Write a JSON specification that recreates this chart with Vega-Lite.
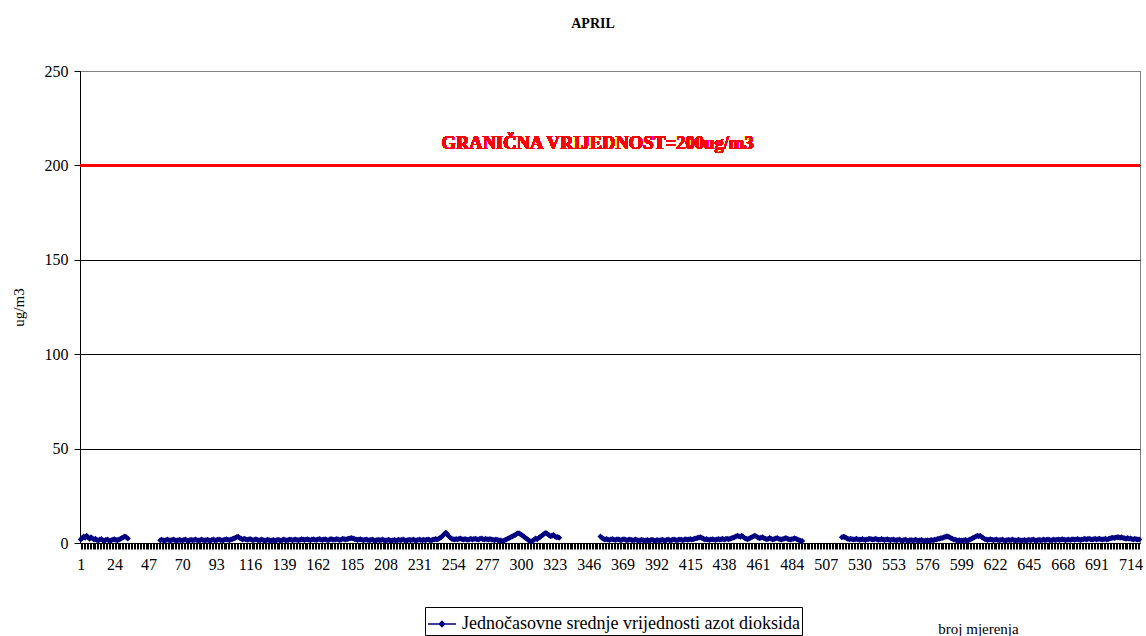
{
"$schema": "https://vega.github.io/schema/vega-lite/v6.json",
"width": 1060, "height": 472,
"autosize": {"type": "none"},
"padding": {"left": 80, "top": 71, "right": 6, "bottom": 93},
"background": "white",
"config": {"view": {"stroke": "#808080", "strokeWidth": 1}, "font": "Liberation Serif"},
"title": {"text": "APRIL", "font": "Liberation Serif", "fontSize": 14, "fontWeight": "bold", "color": "black", "anchor": "middle", "offset": 32, "dx": -17},
"data": {"values": [
{"n":1,"s":1,"v":1.8},{"n":2,"s":1,"v":2.6},{"n":3,"s":1,"v":3.4},{"n":4,"s":1,"v":2.8},{"n":5,"s":1,"v":3.8},{"n":6,"s":1,"v":2.9},{"n":7,"s":1,"v":2.2},{"n":8,"s":1,"v":3.0},{"n":9,"s":1,"v":2.4},{"n":10,"s":1,"v":1.8},
{"n":11,"s":1,"v":2.2},{"n":12,"s":1,"v":1.6},{"n":13,"s":1,"v":1.3},{"n":14,"s":1,"v":1.8},{"n":15,"s":1,"v":2.1},{"n":16,"s":1,"v":1.5},{"n":17,"s":1,"v":1.2},{"n":18,"s":1,"v":1.6},{"n":19,"s":1,"v":1.9},{"n":20,"s":1,"v":1.4},
{"n":21,"s":1,"v":1.2},{"n":22,"s":1,"v":1.5},{"n":23,"s":1,"v":1.8},{"n":24,"s":1,"v":2.0},{"n":25,"s":1,"v":1.6},{"n":26,"s":1,"v":1.4},{"n":27,"s":1,"v":1.8},{"n":28,"s":1,"v":2.2},{"n":29,"s":1,"v":2.6},{"n":30,"s":1,"v":3.0},
{"n":31,"s":1,"v":3.4},{"n":32,"s":1,"v":3.0},{"n":33,"s":1,"v":2.4},
{"n":55,"s":2,"v":1.4},{"n":56,"s":2,"v":1.7},{"n":57,"s":2,"v":1.5},{"n":58,"s":2,"v":1.2},{"n":59,"s":2,"v":1.6},{"n":60,"s":2,"v":1.8},{"n":61,"s":2,"v":1.5},{"n":62,"s":2,"v":1.3},{"n":63,"s":2,"v":1.6},{"n":64,"s":2,"v":1.9},
{"n":65,"s":2,"v":1.5},{"n":66,"s":2,"v":1.2},{"n":67,"s":2,"v":1.4},{"n":68,"s":2,"v":1.7},{"n":69,"s":2,"v":1.5},{"n":70,"s":2,"v":1.3},{"n":71,"s":2,"v":1.6},{"n":72,"s":2,"v":1.8},{"n":73,"s":2,"v":1.4},{"n":74,"s":2,"v":1.2},
{"n":75,"s":2,"v":1.5},{"n":76,"s":2,"v":1.7},{"n":77,"s":2,"v":1.4},{"n":78,"s":2,"v":1.6},{"n":79,"s":2,"v":1.9},{"n":80,"s":2,"v":1.5},{"n":81,"s":2,"v":1.3},{"n":82,"s":2,"v":1.5},{"n":83,"s":2,"v":1.8},{"n":84,"s":2,"v":1.6},
{"n":85,"s":2,"v":1.3},{"n":86,"s":2,"v":1.5},{"n":87,"s":2,"v":1.7},{"n":88,"s":2,"v":1.4},{"n":89,"s":2,"v":1.2},{"n":90,"s":2,"v":1.6},{"n":91,"s":2,"v":1.8},{"n":92,"s":2,"v":1.5},{"n":93,"s":2,"v":1.4},{"n":94,"s":2,"v":1.7},
{"n":95,"s":2,"v":1.9},{"n":96,"s":2,"v":1.6},{"n":97,"s":2,"v":1.4},{"n":98,"s":2,"v":1.5},{"n":99,"s":2,"v":1.8},{"n":100,"s":2,"v":2.0},{"n":101,"s":2,"v":1.7},{"n":102,"s":2,"v":1.5},{"n":103,"s":2,"v":1.8},{"n":104,"s":2,"v":2.1},
{"n":105,"s":2,"v":2.4},{"n":106,"s":2,"v":2.8},{"n":107,"s":2,"v":3.2},{"n":108,"s":2,"v":3.3},{"n":109,"s":2,"v":2.7},{"n":110,"s":2,"v":2.2},{"n":111,"s":2,"v":1.9},{"n":112,"s":2,"v":2.3},{"n":113,"s":2,"v":2.0},{"n":114,"s":2,"v":1.7},
{"n":115,"s":2,"v":1.9},{"n":116,"s":2,"v":2.1},{"n":117,"s":2,"v":1.8},{"n":118,"s":2,"v":1.5},{"n":119,"s":2,"v":1.7},{"n":120,"s":2,"v":2.0},{"n":121,"s":2,"v":1.6},{"n":122,"s":2,"v":1.4},{"n":123,"s":2,"v":1.6},{"n":124,"s":2,"v":1.8},
{"n":125,"s":2,"v":1.5},{"n":126,"s":2,"v":1.3},{"n":127,"s":2,"v":1.5},{"n":128,"s":2,"v":1.7},{"n":129,"s":2,"v":1.4},{"n":130,"s":2,"v":1.2},{"n":131,"s":2,"v":1.4},{"n":132,"s":2,"v":1.6},{"n":133,"s":2,"v":1.3},{"n":134,"s":2,"v":1.5},
{"n":135,"s":2,"v":1.7},{"n":136,"s":2,"v":1.5},{"n":137,"s":2,"v":1.3},{"n":138,"s":2,"v":1.6},{"n":139,"s":2,"v":1.8},{"n":140,"s":2,"v":1.5},{"n":141,"s":2,"v":1.4},{"n":142,"s":2,"v":1.6},{"n":143,"s":2,"v":1.9},{"n":144,"s":2,"v":1.7},
{"n":145,"s":2,"v":1.5},{"n":146,"s":2,"v":1.7},{"n":147,"s":2,"v":1.9},{"n":148,"s":2,"v":1.6},{"n":149,"s":2,"v":1.4},{"n":150,"s":2,"v":1.7},{"n":151,"s":2,"v":2.0},{"n":152,"s":2,"v":1.8},{"n":153,"s":2,"v":1.6},{"n":154,"s":2,"v":1.8},
{"n":155,"s":2,"v":2.0},{"n":156,"s":2,"v":1.7},{"n":157,"s":2,"v":1.5},{"n":158,"s":2,"v":1.8},{"n":159,"s":2,"v":2.0},{"n":160,"s":2,"v":1.7},{"n":161,"s":2,"v":1.6},{"n":162,"s":2,"v":1.9},{"n":163,"s":2,"v":2.1},{"n":164,"s":2,"v":1.8},
{"n":165,"s":2,"v":1.6},{"n":166,"s":2,"v":1.8},{"n":167,"s":2,"v":2.0},{"n":168,"s":2,"v":1.7},{"n":169,"s":2,"v":1.5},{"n":170,"s":2,"v":1.8},{"n":171,"s":2,"v":2.1},{"n":172,"s":2,"v":1.9},{"n":173,"s":2,"v":1.7},{"n":174,"s":2,"v":1.9},
{"n":175,"s":2,"v":2.1},{"n":176,"s":2,"v":1.8},{"n":177,"s":2,"v":1.6},{"n":178,"s":2,"v":1.9},{"n":179,"s":2,"v":2.2},{"n":180,"s":2,"v":2.0},{"n":181,"s":2,"v":1.8},{"n":182,"s":2,"v":2.1},{"n":183,"s":2,"v":2.3},{"n":184,"s":2,"v":2.5},
{"n":185,"s":2,"v":2.7},{"n":186,"s":2,"v":2.4},{"n":187,"s":2,"v":2.1},{"n":188,"s":2,"v":1.8},{"n":189,"s":2,"v":1.6},{"n":190,"s":2,"v":1.8},{"n":191,"s":2,"v":2.0},{"n":192,"s":2,"v":1.7},{"n":193,"s":2,"v":1.5},{"n":194,"s":2,"v":1.7},
{"n":195,"s":2,"v":1.9},{"n":196,"s":2,"v":1.6},{"n":197,"s":2,"v":1.4},{"n":198,"s":2,"v":1.6},{"n":199,"s":2,"v":1.8},{"n":200,"s":2,"v":1.5},{"n":201,"s":2,"v":1.3},{"n":202,"s":2,"v":1.5},{"n":203,"s":2,"v":1.7},{"n":204,"s":2,"v":1.4},
{"n":205,"s":2,"v":1.6},{"n":206,"s":2,"v":1.8},{"n":207,"s":2,"v":1.5},{"n":208,"s":2,"v":1.3},{"n":209,"s":2,"v":1.5},{"n":210,"s":2,"v":1.7},{"n":211,"s":2,"v":1.4},{"n":212,"s":2,"v":1.2},{"n":213,"s":2,"v":1.4},{"n":214,"s":2,"v":1.6},
{"n":215,"s":2,"v":1.3},{"n":216,"s":2,"v":1.5},{"n":217,"s":2,"v":1.7},{"n":218,"s":2,"v":1.4},{"n":219,"s":2,"v":1.6},{"n":220,"s":2,"v":1.8},{"n":221,"s":2,"v":1.5},{"n":222,"s":2,"v":1.3},{"n":223,"s":2,"v":1.5},{"n":224,"s":2,"v":1.7},
{"n":225,"s":2,"v":1.4},{"n":226,"s":2,"v":1.6},{"n":227,"s":2,"v":1.8},{"n":228,"s":2,"v":1.5},{"n":229,"s":2,"v":1.3},{"n":230,"s":2,"v":1.6},{"n":231,"s":2,"v":1.8},{"n":232,"s":2,"v":1.6},{"n":233,"s":2,"v":1.4},{"n":234,"s":2,"v":1.7},
{"n":235,"s":2,"v":1.5},{"n":236,"s":2,"v":1.7},{"n":237,"s":2,"v":1.9},{"n":238,"s":2,"v":1.6},{"n":239,"s":2,"v":1.4},{"n":240,"s":2,"v":1.7},{"n":241,"s":2,"v":1.9},{"n":242,"s":2,"v":2.1},{"n":243,"s":2,"v":1.8},{"n":244,"s":2,"v":2.2},
{"n":245,"s":2,"v":2.6},{"n":246,"s":2,"v":3.2},{"n":247,"s":2,"v":4.0},{"n":248,"s":2,"v":4.8},{"n":249,"s":2,"v":5.5},{"n":250,"s":2,"v":4.6},{"n":251,"s":2,"v":3.6},{"n":252,"s":2,"v":2.8},{"n":253,"s":2,"v":2.3},{"n":254,"s":2,"v":2.0},
{"n":255,"s":2,"v":1.8},{"n":256,"s":2,"v":2.1},{"n":257,"s":2,"v":1.9},{"n":258,"s":2,"v":2.2},{"n":259,"s":2,"v":2.4},{"n":260,"s":2,"v":2.0},{"n":261,"s":2,"v":1.8},{"n":262,"s":2,"v":2.1},{"n":263,"s":2,"v":1.9},{"n":264,"s":2,"v":1.7},
{"n":265,"s":2,"v":2.0},{"n":266,"s":2,"v":2.2},{"n":267,"s":2,"v":1.9},{"n":268,"s":2,"v":2.1},{"n":269,"s":2,"v":2.3},{"n":270,"s":2,"v":2.0},{"n":271,"s":2,"v":1.8},{"n":272,"s":2,"v":2.1},{"n":273,"s":2,"v":2.4},{"n":274,"s":2,"v":2.1},
{"n":275,"s":2,"v":1.9},{"n":276,"s":2,"v":2.2},{"n":277,"s":2,"v":2.0},{"n":278,"s":2,"v":1.8},{"n":279,"s":2,"v":2.1},{"n":280,"s":2,"v":1.9},{"n":281,"s":2,"v":1.7},{"n":282,"s":2,"v":1.5},{"n":283,"s":2,"v":1.8},{"n":284,"s":2,"v":1.6},
{"n":285,"s":2,"v":1.4},{"n":286,"s":2,"v":1.3},{"n":287,"s":2,"v":1.2},{"n":288,"s":2,"v":1.0},{"n":289,"s":2,"v":1.4},{"n":290,"s":2,"v":1.8},{"n":291,"s":2,"v":2.2},{"n":292,"s":2,"v":2.6},{"n":293,"s":2,"v":3.0},{"n":294,"s":2,"v":3.4},
{"n":295,"s":2,"v":3.8},{"n":296,"s":2,"v":4.3},{"n":297,"s":2,"v":4.8},{"n":298,"s":2,"v":5.2},{"n":299,"s":2,"v":5.0},{"n":300,"s":2,"v":4.5},{"n":301,"s":2,"v":4.0},{"n":302,"s":2,"v":3.4},{"n":303,"s":2,"v":2.8},{"n":304,"s":2,"v":2.2},
{"n":305,"s":2,"v":1.6},{"n":306,"s":2,"v":1.0},{"n":307,"s":2,"v":0.8},{"n":308,"s":2,"v":1.2},{"n":309,"s":2,"v":1.8},{"n":310,"s":2,"v":2.4},{"n":311,"s":2,"v":2.0},{"n":312,"s":2,"v":2.6},{"n":313,"s":2,"v":3.2},{"n":314,"s":2,"v":3.8},
{"n":315,"s":2,"v":4.4},{"n":316,"s":2,"v":5.0},{"n":317,"s":2,"v":5.3},{"n":318,"s":2,"v":4.8},{"n":319,"s":2,"v":4.2},{"n":320,"s":2,"v":3.6},{"n":321,"s":2,"v":3.8},{"n":322,"s":2,"v":4.2},{"n":323,"s":2,"v":3.6},{"n":324,"s":2,"v":3.0},
{"n":325,"s":2,"v":3.2},{"n":326,"s":2,"v":2.8},
{"n":354,"s":3,"v":3.4},{"n":355,"s":3,"v":2.8},{"n":356,"s":3,"v":2.2},{"n":357,"s":3,"v":1.9},{"n":358,"s":3,"v":2.1},{"n":359,"s":3,"v":1.8},{"n":360,"s":3,"v":1.6},{"n":361,"s":3,"v":1.9},{"n":362,"s":3,"v":2.1},{"n":363,"s":3,"v":1.8},
{"n":364,"s":3,"v":1.6},{"n":365,"s":3,"v":1.8},{"n":366,"s":3,"v":2.0},{"n":367,"s":3,"v":1.7},{"n":368,"s":3,"v":1.5},{"n":369,"s":3,"v":1.8},{"n":370,"s":3,"v":2.0},{"n":371,"s":3,"v":1.7},{"n":372,"s":3,"v":1.5},{"n":373,"s":3,"v":1.7},
{"n":374,"s":3,"v":1.9},{"n":375,"s":3,"v":1.6},{"n":376,"s":3,"v":1.4},{"n":377,"s":3,"v":1.6},{"n":378,"s":3,"v":1.8},{"n":379,"s":3,"v":1.5},{"n":380,"s":3,"v":1.3},{"n":381,"s":3,"v":1.5},{"n":382,"s":3,"v":1.7},{"n":383,"s":3,"v":1.4},
{"n":384,"s":3,"v":1.2},{"n":385,"s":3,"v":1.4},{"n":386,"s":3,"v":1.6},{"n":387,"s":3,"v":1.3},{"n":388,"s":3,"v":1.5},{"n":389,"s":3,"v":1.7},{"n":390,"s":3,"v":1.4},{"n":391,"s":3,"v":1.2},{"n":392,"s":3,"v":1.4},{"n":393,"s":3,"v":1.6},
{"n":394,"s":3,"v":1.3},{"n":395,"s":3,"v":1.5},{"n":396,"s":3,"v":1.7},{"n":397,"s":3,"v":1.5},{"n":398,"s":3,"v":1.3},{"n":399,"s":3,"v":1.6},{"n":400,"s":3,"v":1.8},{"n":401,"s":3,"v":1.5},{"n":402,"s":3,"v":1.4},{"n":403,"s":3,"v":1.7},
{"n":404,"s":3,"v":1.9},{"n":405,"s":3,"v":1.6},{"n":406,"s":3,"v":1.5},{"n":407,"s":3,"v":1.7},{"n":408,"s":3,"v":1.9},{"n":409,"s":3,"v":1.7},{"n":410,"s":3,"v":1.5},{"n":411,"s":3,"v":1.8},{"n":412,"s":3,"v":2.0},{"n":413,"s":3,"v":1.7},
{"n":414,"s":3,"v":1.9},{"n":415,"s":3,"v":2.1},{"n":416,"s":3,"v":1.8},{"n":417,"s":3,"v":2.0},{"n":418,"s":3,"v":2.3},{"n":419,"s":3,"v":2.5},{"n":420,"s":3,"v":2.7},{"n":421,"s":3,"v":2.9},{"n":422,"s":3,"v":3.0},{"n":423,"s":3,"v":2.6},
{"n":424,"s":3,"v":2.2},{"n":425,"s":3,"v":1.9},{"n":426,"s":3,"v":2.1},{"n":427,"s":3,"v":1.8},{"n":428,"s":3,"v":1.6},{"n":429,"s":3,"v":1.8},{"n":430,"s":3,"v":2.0},{"n":431,"s":3,"v":1.8},{"n":432,"s":3,"v":1.6},{"n":433,"s":3,"v":1.9},
{"n":434,"s":3,"v":2.1},{"n":435,"s":3,"v":1.8},{"n":436,"s":3,"v":2.0},{"n":437,"s":3,"v":2.2},{"n":438,"s":3,"v":1.9},{"n":439,"s":3,"v":2.1},{"n":440,"s":3,"v":2.3},{"n":441,"s":3,"v":2.0},{"n":442,"s":3,"v":2.2},{"n":443,"s":3,"v":2.5},
{"n":444,"s":3,"v":2.8},{"n":445,"s":3,"v":3.1},{"n":446,"s":3,"v":3.4},{"n":447,"s":3,"v":3.8},{"n":448,"s":3,"v":3.6},{"n":449,"s":3,"v":3.3},{"n":450,"s":3,"v":3.8},{"n":451,"s":3,"v":3.2},{"n":452,"s":3,"v":2.6},{"n":453,"s":3,"v":2.2},
{"n":454,"s":3,"v":2.0},{"n":455,"s":3,"v":2.4},{"n":456,"s":3,"v":2.8},{"n":457,"s":3,"v":3.2},{"n":458,"s":3,"v":3.6},{"n":459,"s":3,"v":3.8},{"n":460,"s":3,"v":3.4},{"n":461,"s":3,"v":2.9},{"n":462,"s":3,"v":2.5},{"n":463,"s":3,"v":2.8},
{"n":464,"s":3,"v":3.0},{"n":465,"s":3,"v":2.6},{"n":466,"s":3,"v":2.3},{"n":467,"s":3,"v":2.0},{"n":468,"s":3,"v":2.3},{"n":469,"s":3,"v":2.6},{"n":470,"s":3,"v":2.2},{"n":471,"s":3,"v":1.9},{"n":472,"s":3,"v":2.1},{"n":473,"s":3,"v":2.4},
{"n":474,"s":3,"v":2.6},{"n":475,"s":3,"v":2.3},{"n":476,"s":3,"v":2.0},{"n":477,"s":3,"v":1.8},{"n":478,"s":3,"v":2.1},{"n":479,"s":3,"v":2.4},{"n":480,"s":3,"v":2.6},{"n":481,"s":3,"v":2.3},{"n":482,"s":3,"v":2.0},{"n":483,"s":3,"v":1.8},
{"n":484,"s":3,"v":2.0},{"n":485,"s":3,"v":2.3},{"n":486,"s":3,"v":2.5},{"n":487,"s":3,"v":2.1},{"n":488,"s":3,"v":1.8},{"n":489,"s":3,"v":1.5},{"n":490,"s":3,"v":1.2},{"n":491,"s":3,"v":1.0},
{"n":518,"s":4,"v":3.0},{"n":519,"s":4,"v":3.3},{"n":520,"s":4,"v":3.2},{"n":521,"s":4,"v":2.7},{"n":522,"s":4,"v":2.3},{"n":523,"s":4,"v":2.0},{"n":524,"s":4,"v":2.2},{"n":525,"s":4,"v":2.0},{"n":526,"s":4,"v":1.8},{"n":527,"s":4,"v":2.0},
{"n":528,"s":4,"v":2.2},{"n":529,"s":4,"v":1.9},{"n":530,"s":4,"v":1.7},{"n":531,"s":4,"v":1.9},{"n":532,"s":4,"v":2.1},{"n":533,"s":4,"v":1.8},{"n":534,"s":4,"v":1.6},{"n":535,"s":4,"v":1.9},{"n":536,"s":4,"v":2.1},{"n":537,"s":4,"v":2.3},
{"n":538,"s":4,"v":2.0},{"n":539,"s":4,"v":1.8},{"n":540,"s":4,"v":2.0},{"n":541,"s":4,"v":2.2},{"n":542,"s":4,"v":1.9},{"n":543,"s":4,"v":1.7},{"n":544,"s":4,"v":1.9},{"n":545,"s":4,"v":2.1},{"n":546,"s":4,"v":1.8},{"n":547,"s":4,"v":1.6},
{"n":548,"s":4,"v":1.8},{"n":549,"s":4,"v":2.0},{"n":550,"s":4,"v":1.7},{"n":551,"s":4,"v":1.5},{"n":552,"s":4,"v":1.7},{"n":553,"s":4,"v":1.9},{"n":554,"s":4,"v":1.6},{"n":555,"s":4,"v":1.4},{"n":556,"s":4,"v":1.6},{"n":557,"s":4,"v":1.8},
{"n":558,"s":4,"v":1.5},{"n":559,"s":4,"v":1.3},{"n":560,"s":4,"v":1.5},{"n":561,"s":4,"v":1.7},{"n":562,"s":4,"v":1.4},{"n":563,"s":4,"v":1.2},{"n":564,"s":4,"v":1.4},{"n":565,"s":4,"v":1.6},{"n":566,"s":4,"v":1.3},{"n":567,"s":4,"v":1.5},
{"n":568,"s":4,"v":1.7},{"n":569,"s":4,"v":1.4},{"n":570,"s":4,"v":1.2},{"n":571,"s":4,"v":1.4},{"n":572,"s":4,"v":1.6},{"n":573,"s":4,"v":1.3},{"n":574,"s":4,"v":1.1},{"n":575,"s":4,"v":1.3},{"n":576,"s":4,"v":1.5},{"n":577,"s":4,"v":1.2},
{"n":578,"s":4,"v":1.4},{"n":579,"s":4,"v":1.6},{"n":580,"s":4,"v":1.4},{"n":581,"s":4,"v":1.7},{"n":582,"s":4,"v":1.9},{"n":583,"s":4,"v":2.1},{"n":584,"s":4,"v":2.3},{"n":585,"s":4,"v":2.5},{"n":586,"s":4,"v":2.7},{"n":587,"s":4,"v":2.9},
{"n":588,"s":4,"v":3.2},{"n":589,"s":4,"v":3.5},{"n":590,"s":4,"v":3.4},{"n":591,"s":4,"v":3.0},{"n":592,"s":4,"v":2.6},{"n":593,"s":4,"v":2.2},{"n":594,"s":4,"v":1.9},{"n":595,"s":4,"v":1.7},{"n":596,"s":4,"v":1.5},{"n":597,"s":4,"v":1.3},
{"n":598,"s":4,"v":1.5},{"n":599,"s":4,"v":1.3},{"n":600,"s":4,"v":1.2},{"n":601,"s":4,"v":1.4},{"n":602,"s":4,"v":1.6},{"n":603,"s":4,"v":1.3},{"n":604,"s":4,"v":1.5},{"n":605,"s":4,"v":1.8},{"n":606,"s":4,"v":2.2},{"n":607,"s":4,"v":2.6},
{"n":608,"s":4,"v":3.0},{"n":609,"s":4,"v":3.4},{"n":610,"s":4,"v":3.8},{"n":611,"s":4,"v":3.6},{"n":612,"s":4,"v":3.8},{"n":613,"s":4,"v":3.2},{"n":614,"s":4,"v":2.6},{"n":615,"s":4,"v":2.1},{"n":616,"s":4,"v":1.8},{"n":617,"s":4,"v":1.6},
{"n":618,"s":4,"v":1.8},{"n":619,"s":4,"v":2.0},{"n":620,"s":4,"v":1.7},{"n":621,"s":4,"v":1.5},{"n":622,"s":4,"v":1.7},{"n":623,"s":4,"v":1.9},{"n":624,"s":4,"v":1.6},{"n":625,"s":4,"v":1.4},{"n":626,"s":4,"v":1.6},{"n":627,"s":4,"v":1.8},
{"n":628,"s":4,"v":1.5},{"n":629,"s":4,"v":1.3},{"n":630,"s":4,"v":1.5},{"n":631,"s":4,"v":1.7},{"n":632,"s":4,"v":1.4},{"n":633,"s":4,"v":1.6},{"n":634,"s":4,"v":1.8},{"n":635,"s":4,"v":1.5},{"n":636,"s":4,"v":1.3},{"n":637,"s":4,"v":1.5},
{"n":638,"s":4,"v":1.7},{"n":639,"s":4,"v":1.4},{"n":640,"s":4,"v":1.2},{"n":641,"s":4,"v":1.4},{"n":642,"s":4,"v":1.6},{"n":643,"s":4,"v":1.3},{"n":644,"s":4,"v":1.5},{"n":645,"s":4,"v":1.7},{"n":646,"s":4,"v":1.4},{"n":647,"s":4,"v":1.6},
{"n":648,"s":4,"v":1.8},{"n":649,"s":4,"v":1.5},{"n":650,"s":4,"v":1.3},{"n":651,"s":4,"v":1.5},{"n":652,"s":4,"v":1.7},{"n":653,"s":4,"v":1.4},{"n":654,"s":4,"v":1.6},{"n":655,"s":4,"v":1.8},{"n":656,"s":4,"v":1.5},{"n":657,"s":4,"v":1.7},
{"n":658,"s":4,"v":1.9},{"n":659,"s":4,"v":1.6},{"n":660,"s":4,"v":1.4},{"n":661,"s":4,"v":1.6},{"n":662,"s":4,"v":1.8},{"n":663,"s":4,"v":1.5},{"n":664,"s":4,"v":1.7},{"n":665,"s":4,"v":1.9},{"n":666,"s":4,"v":1.6},{"n":667,"s":4,"v":1.8},
{"n":668,"s":4,"v":2.0},{"n":669,"s":4,"v":1.7},{"n":670,"s":4,"v":1.5},{"n":671,"s":4,"v":1.7},{"n":672,"s":4,"v":1.9},{"n":673,"s":4,"v":1.6},{"n":674,"s":4,"v":1.8},{"n":675,"s":4,"v":2.0},{"n":676,"s":4,"v":1.7},{"n":677,"s":4,"v":1.9},
{"n":678,"s":4,"v":2.1},{"n":679,"s":4,"v":1.8},{"n":680,"s":4,"v":1.6},{"n":681,"s":4,"v":1.8},{"n":682,"s":4,"v":2.0},{"n":683,"s":4,"v":2.2},{"n":684,"s":4,"v":1.9},{"n":685,"s":4,"v":2.1},{"n":686,"s":4,"v":2.3},{"n":687,"s":4,"v":2.0},
{"n":688,"s":4,"v":1.8},{"n":689,"s":4,"v":2.0},{"n":690,"s":4,"v":2.2},{"n":691,"s":4,"v":1.9},{"n":692,"s":4,"v":2.1},{"n":693,"s":4,"v":2.3},{"n":694,"s":4,"v":2.0},{"n":695,"s":4,"v":1.8},{"n":696,"s":4,"v":2.0},{"n":697,"s":4,"v":2.2},
{"n":698,"s":4,"v":1.9},{"n":699,"s":4,"v":2.1},{"n":700,"s":4,"v":2.4},{"n":701,"s":4,"v":2.6},{"n":702,"s":4,"v":2.8},{"n":703,"s":4,"v":2.6},{"n":704,"s":4,"v":2.9},{"n":705,"s":4,"v":3.1},{"n":706,"s":4,"v":3.0},{"n":707,"s":4,"v":2.8},
{"n":708,"s":4,"v":3.0},{"n":709,"s":4,"v":2.7},{"n":710,"s":4,"v":2.5},{"n":711,"s":4,"v":2.3},{"n":712,"s":4,"v":2.6},{"n":713,"s":4,"v":2.2},{"n":714,"s":4,"v":2.4},{"n":715,"s":4,"v":2.1},{"n":716,"s":4,"v":1.9},{"n":717,"s":4,"v":2.2},
{"n":718,"s":4,"v":2.0},{"n":719,"s":4,"v":1.8},{"n":720,"s":4,"v":1.9}
]},
"layer": [
{"mark": {"type": "line", "color": "#000080", "strokeWidth": 2},
 "encoding": {
  "x": {"field": "n", "type": "quantitative", "scale": {"domain": [0.5, 720.5], "nice": false, "zero": false},
   "axis": {"title": "broj mjerenja", "titleFont": "Liberation Serif", "titleFontSize": 15, "titleFontWeight": "normal", "titleColor": "black", "titleX": 898, "titleY": 85, "titleAlign": "center", "titleBaseline": "middle",
    "tickCount": 720, "labelExpr": "(datum.value-1)%23==0 ? datum.label : ''", "labelOverlap": false, "labelFlush": false, "labelBound": false,
    "labelFont": "Liberation Serif", "labelFontSize": 16, "labelColor": "black", "labelPadding": 7,
    "tickColor": "black", "tickSize": 6, "tickWidth": 1, "domainColor": "black", "domainWidth": 1, "grid": false}},
  "y": {"field": "v", "type": "quantitative", "scale": {"domain": [0, 250], "nice": false},
   "axis": {"title": "ug/m3", "titleFont": "Liberation Serif", "titleFontSize": 15, "titleFontWeight": "normal", "titleColor": "black", "titleX": -62, "titleY": 236, "titleAngle": -90, "titleAlign": "center", "titleBaseline": "middle",
    "values": [0, 50, 100, 150, 200, 250], "labelFont": "Liberation Serif", "labelFontSize": 16, "labelColor": "black", "labelPadding": 6,
    "tickColor": "black", "tickSize": 6, "domainColor": "black", "grid": true,
    "gridColor": {"condition": {"test": "datum.value >= 250", "value": "#808080"}, "value": "black"}, "gridOpacity": 1, "gridWidth": 1}},
  "detail": {"field": "s"},
  "color": {"datum": "Jednočasovne srednje vrijednosti azot dioksida", "scale": {"range": ["#000080"]},
   "legend": {"orient": "none", "legendX": 345, "legendY": 536, "title": null, "strokeColor": "black", "fillColor": "white", "padding": 2,
    "symbolType": "M-1,0H1M0,-0.2L0.2,0L0,0.2L-0.2,0Z", "symbolSize": 784, "symbolStrokeWidth": 1.3, "symbolFillColor": "#000080", "symbolStrokeColor": "#000080",
    "labelFont": "Liberation Serif", "labelFontSize": 18, "labelColor": "black", "labelOffset": 5, "labelLimit": 0}}
 }},
{"mark": {"type": "point", "shape": "diamond", "filled": true, "color": "#000080", "size": 36, "opacity": 1},
 "encoding": {"x": {"field": "n", "type": "quantitative"}, "y": {"field": "v", "type": "quantitative"}}},
{"mark": {"type": "rule", "color": "#ff0000", "strokeWidth": 3},
 "encoding": {"y": {"datum": 200}}},
{"mark": {"type": "text", "color": "#ff0000", "font": "Liberation Serif", "fontSize": 18.5, "fontWeight": "bold"},
 "encoding": {"x": {"datum": 352}, "y": {"datum": 212}, "text": {"value": "GRANIČNA VRIJEDNOST=200ug/m3"}}}
]
}
